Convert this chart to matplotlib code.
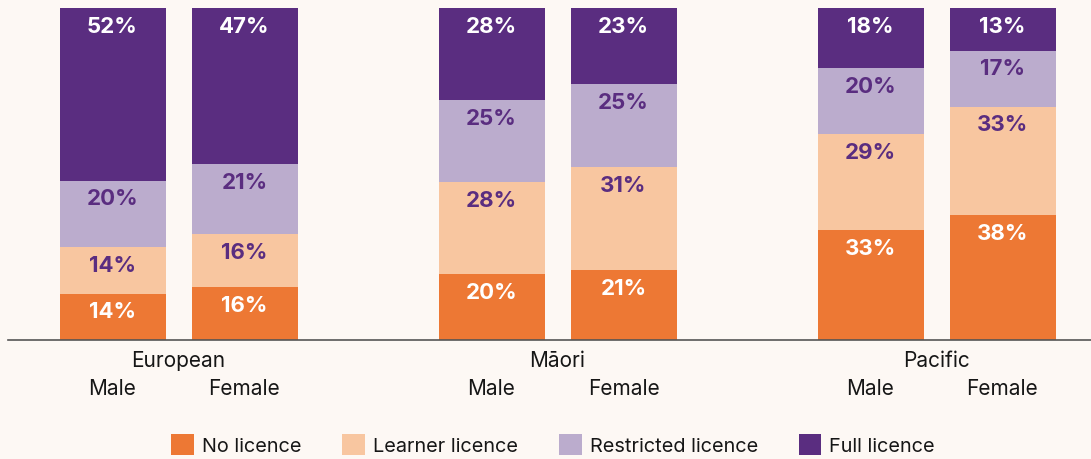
import numpy as np
import matplotlib.pyplot as plt
from matplotlib.patches import Patch

plt.rcParams['font.family'] = ['Inter', 'DejaVu Sans']

# data (percent of each group)
groups = ['European', 'Māori', 'Pacific']
sexes = ['Male', 'Female']
series = ['No licence', 'Learner licence', 'Restricted licence', 'Full licence']
no_licence = [14, 16, 20, 21, 33, 38]
learner = [14, 16, 28, 31, 29, 33]
restricted = [20, 21, 25, 25, 20, 17]
full = [52, 47, 28, 23, 18, 13]

colors = ['#ED7834', '#F8C6A0', '#BBACCD', '#5A2D80']
label_colors = ['white', '#5A2D80', '#5A2D80', 'white']
bg = '#FDF8F4'
txt = '#161616'

vals = np.array([no_licence, learner, restricted, full], dtype=float)
# scale each bar to 100% (rounded labels can add to 101)
scaled = vals / vals.sum(axis=0) * 100

fig = plt.figure(figsize=(10.91, 4.59), dpi=100, facecolor=bg)
ax = fig.add_axes([0, 119 / 459, 1, 332 / 459])
ax.set_facecolor(bg)
ax.set_xlim(0, 1091)
ax.set_ylim(0, 100)

group_centres = 178.5 + 379 * np.arange(len(groups))
offsets = np.array([-66, 66])
x = (group_centres[:, None] + offsets[None, :]).ravel()
width = 106

bottom = np.zeros(len(x))
for i in range(len(series)):
    ax.bar(x, scaled[i], width, bottom=bottom, color=colors[i], linewidth=0)
    for xi, b, h, v in zip(x, bottom, scaled[i], vals[i]):
        ax.annotate(f'{int(v)}%', (xi, b + h), xytext=(0, -13.5), textcoords='offset points',
                    ha='center', va='center', fontsize=16, fontweight='bold',
                    color=label_colors[i])
    bottom += scaled[i]

ax.axhline(0, xmin=8 / 1091, xmax=1, color='#555555', linewidth=1.2, clip_on=False)

for gc, g in zip(group_centres, groups):
    ax.text(gc, -6.3, g, ha='center', va='center', fontsize=15, color=txt, clip_on=False)
for xi, s in zip(x, sexes * len(groups)):
    ax.text(xi, -14.8, s, ha='center', va='center', fontsize=15, color=txt, clip_on=False)

ax.axis('off')

handles = [Patch(facecolor=c, edgecolor='none') for c in colors]
fig.legend(handles, series, loc='center', bbox_to_anchor=(0.507, 14 / 459), ncol=4,
           frameon=False, fontsize=14.3, handlelength=1.15, handleheight=1.25,
           handletextpad=0.4, columnspacing=2.05, labelcolor=txt)

fig.savefig('out.png', dpi=100, facecolor=bg)
